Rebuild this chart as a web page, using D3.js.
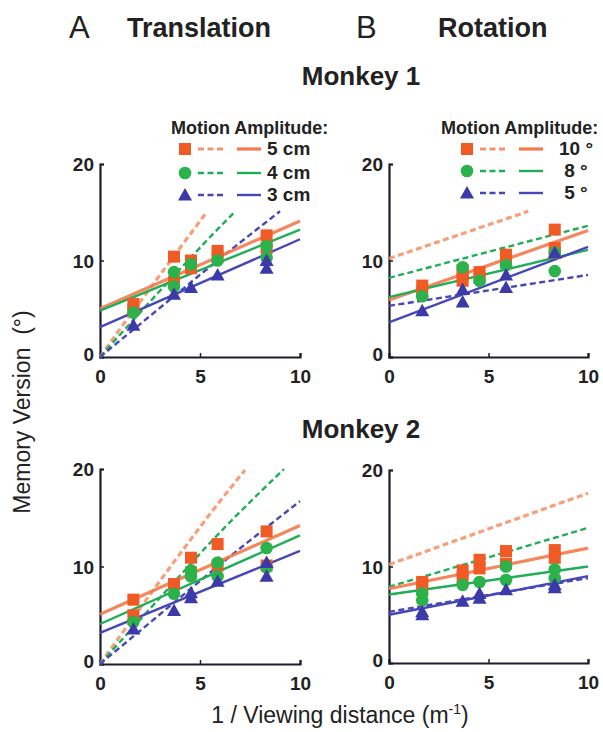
<!DOCTYPE html>
<html><head><meta charset="utf-8">
<script src="https://cdn.jsdelivr.net/npm/d3@7"></script>
<style>
body{margin:0;background:#fff;}
svg{display:block;font-family:Arial,"Liberation Sans",Helvetica,sans-serif;}
</style></head>
<body>
<svg id="c" width="603" height="732"></svg>
<script>
// ---------- DATA ----------
const xTicks = [0, 5, 10];
const yTicks = [0, 10, 20];
const transLabels = ["5 cm", "4 cm", "3 cm"];
const rotLabels = ["10 °", "8 °", "5 °"];

// Monkey 1 – Translation
const m1TransPtsRed   = [[1.67,5.5],[1.67,4.9],[3.7,10.4],[3.7,7.8],[4.55,10.0],[4.55,9.2],[5.88,11.0],[5.88,10.4],[8.33,12.6],[8.33,11.3]];
const m1TransPtsGreen = [[1.67,4.6],[3.7,8.8],[3.7,7.3],[4.55,9.6],[5.88,10.0],[8.33,10.3],[8.33,11.5]];
const m1TransPtsBlue  = [[1.67,3.3],[3.7,6.5],[4.55,7.2],[5.88,8.5],[8.33,9.2],[8.33,10.0]];
const m1TransDashRed   = [[0,0],[1,2.9],[2,5.7],[3,8.5],[4,11.3],[5.33,15.0]];
const m1TransDashGreen = [[0,0],[2,4.6],[4,9.1],[6,13.5],[6.67,14.9]];
const m1TransDashBlue  = [[0,0],[3,5.1],[6,10.2],[9,15.1]];
const m1TransFitRed   = [[0,5.0],[10,14.1]];
const m1TransFitGreen = [[0,4.8],[10,13.2]];
const m1TransFitBlue  = [[0,3.1],[10,12.2]];

// Monkey 1 – Rotation
const m1RotPtsRed   = [[1.67,7.4],[1.67,6.8],[3.7,9.0],[3.7,8.5],[3.7,7.9],[4.55,8.8],[4.55,8.2],[5.88,10.6],[5.88,9.8],[8.33,13.2],[8.33,11.3],[8.33,10.8]];
const m1RotPtsGreen = [[1.67,6.3],[3.7,9.3],[4.55,7.9],[5.88,9.5],[8.33,8.9],[8.33,10.8]];
const m1RotPtsBlue  = [[1.67,4.8],[3.7,5.7],[3.7,7.0],[5.88,7.2],[5.88,8.5],[8.33,10.8]];
const m1RotDashRed   = [[0,10.2],[7,15.1]];
const m1RotDashGreen = [[0,8.2],[10,13.6]];
const m1RotDashBlue  = [[0,5.3],[10,8.5]];
const m1RotFitRed   = [[0,5.9],[10,13.1]];
const m1RotFitGreen = [[0,6.2],[10,11.1]];
const m1RotFitBlue  = [[0,3.6],[10,11.4]];

// Monkey 2 – Translation
const m2TransPtsRed   = [[1.67,6.6],[1.67,5.0],[3.7,8.2],[4.55,10.9],[4.55,9.4],[5.88,12.3],[5.88,10.1],[8.33,13.6],[8.33,10.1]];
const m2TransPtsGreen = [[1.67,4.3],[3.7,7.2],[4.55,9.6],[4.55,9.0],[5.88,10.4],[5.88,9.0],[8.33,11.9],[8.33,9.9]];
const m2TransPtsBlue  = [[1.67,3.6],[3.7,5.5],[4.55,6.8],[4.55,7.3],[5.88,8.5],[8.33,9.0],[8.33,10.4]];
const m2TransDashRed   = [[0,0],[2,5.7],[4,11.3],[6,16.7],[7.25,19.9]];
const m2TransDashGreen = [[0,0],[3,6.8],[6,13.5],[9.2,20.0]];
const m2TransDashBlue  = [[0,0],[3,5.1],[6,10.2],[10,16.7]];
const m2TransFitRed   = [[0,5.1],[10,14.2]];
const m2TransFitGreen = [[0,4.1],[10,13.2]];
const m2TransFitBlue  = [[0,3.2],[10,11.6]];

// Monkey 2 – Rotation
const m2RotPtsRed   = [[1.67,8.4],[1.67,7.9],[3.7,9.6],[3.7,8.8],[4.55,10.7],[4.55,9.8],[5.88,11.6],[5.88,10.3],[8.33,11.7],[8.33,10.9]];
const m2RotPtsGreen = [[1.67,7.2],[1.67,6.5],[3.7,8.1],[4.55,8.4],[5.88,8.6],[5.88,10.0],[8.33,9.7],[8.33,8.8]];
const m2RotPtsBlue  = [[1.67,5.3],[1.67,5.0],[3.7,6.4],[4.55,7.2],[4.55,6.7],[5.88,7.6],[8.33,8.1],[8.33,7.8]];
const m2RotDashRed   = [[0,10.2],[10,17.6]];
const m2RotDashGreen = [[0,7.9],[10,14.0]];
const m2RotDashBlue  = [[0,5.3],[10,8.8]];
const m2RotFitRed   = [[0,7.7],[10,11.9]];
const m2RotFitGreen = [[0,7.1],[10,10.0]];
const m2RotFitBlue  = [[0,5.0],[10,9.0]];

// ---------- STYLE ----------
const C = {
  red:   {mark:"#f05a24", fit:"#f47a4c", dash:"#f6936c", shape:"square"},
  green: {mark:"#2cb24a", fit:"#1fae57", dash:"#1fae57", shape:"circle"},
  blue:  {mark:"#3b3aa8", fit:"#4747b8", dash:"#4747b8", shape:"triangle"}
};
const TXT = "#222";

const svg = d3.select("#c");

function panel(xr, yr, series) {
  const x = d3.scaleLinear().domain([0,10]).range(xr);
  const y = d3.scaleLinear().domain([0,20]).range(yr);
  const g = svg.append("g");
  const line = d3.line().x(d=>x(d[0])).y(d=>y(d[1])).curve(d3.curveMonotoneX);

  const ax = g.append("g").attr("transform", `translate(0,${yr[0]})`)
    .call(d3.axisBottom(x).tickValues(xTicks).tickSize(-4).tickFormat(d3.format("d")));
  const ay = g.append("g").attr("transform", `translate(${xr[0]},0)`)
    .call(d3.axisLeft(y).tickValues(yTicks).tickSize(-4).tickFormat(d3.format("d")));
  [ax, ay].forEach(a => {
    a.select(".domain").attr("stroke", "#1c1c2c").attr("stroke-width", 2.2);
    a.selectAll(".tick line").attr("stroke", "#1c1c2c").attr("stroke-width", 1.5);
    a.selectAll("text").attr("fill", TXT).attr("font-size", 19).attr("font-weight", "bold");
  });
  ax.selectAll(".tick text").attr("dy", "0").attr("y", 26);
  ay.selectAll(".tick text").attr("x", -6).attr("dy", "0.36em");
  ay.selectAll(".tick").filter(d => d === 0).select("text").attr("dy", "0.2em");

  series.forEach(s => {
    g.append("path").datum(s.dash).attr("d", line).attr("fill","none")
      .attr("stroke", C[s.c].dash).attr("stroke-width", s.c==="red"?3.2:2.4)
      .attr("stroke-dasharray", "6,3.5").attr("opacity", s.c==="red"?0.9:1);
  });
  series.forEach(s => {
    g.append("path").datum(s.fit).attr("d", line).attr("fill","none")
      .attr("stroke", C[s.c].fit).attr("stroke-width", s.c==="red"?3.2:2.4)
      .attr("opacity", s.c==="red"?0.9:1);
  });
  series.forEach(s => drawMarks(g, s.pts.map(p => [x(p[0]), y(p[1])]), s.c));
}

function drawMarks(g, pts, c) {
  const col = C[c].mark;
  pts.forEach(([px, py]) => drawMark(g, px, py, c, col));
}
function drawMark(g, px, py, c, col) {
  if (C[c].shape === "square") {
    g.append("rect").attr("x", px-6).attr("y", py-6).attr("width", 12).attr("height", 12).attr("fill", col);
  } else if (C[c].shape === "circle") {
    g.append("circle").attr("cx", px).attr("cy", py).attr("r", 6.3).attr("fill", col);
  } else {
    g.append("path").attr("d", `M${px},${py-7}L${px+7},${py+5.5}L${px-7},${py+5.5}Z`).attr("fill", col);
  }
}

panel([100,300],[357,164],[
  {c:"red",   pts:m1TransPtsRed,   dash:m1TransDashRed,   fit:m1TransFitRed},
  {c:"green", pts:m1TransPtsGreen, dash:m1TransDashGreen, fit:m1TransFitGreen},
  {c:"blue",  pts:m1TransPtsBlue,  dash:m1TransDashBlue,  fit:m1TransFitBlue}
]);
panel([389,588],[357,164],[
  {c:"red",   pts:m1RotPtsRed,   dash:m1RotDashRed,   fit:m1RotFitRed},
  {c:"green", pts:m1RotPtsGreen, dash:m1RotDashGreen, fit:m1RotFitGreen},
  {c:"blue",  pts:m1RotPtsBlue,  dash:m1RotDashBlue,  fit:m1RotFitBlue}
]);
panel([100,300],[664,469],[
  {c:"red",   pts:m2TransPtsRed,   dash:m2TransDashRed,   fit:m2TransFitRed},
  {c:"green", pts:m2TransPtsGreen, dash:m2TransDashGreen, fit:m2TransFitGreen},
  {c:"blue",  pts:m2TransPtsBlue,  dash:m2TransDashBlue,  fit:m2TransFitBlue}
]);
panel([389,588],[663,470],[
  {c:"red",   pts:m2RotPtsRed,   dash:m2RotDashRed,   fit:m2RotFitRed},
  {c:"green", pts:m2RotPtsGreen, dash:m2RotDashGreen, fit:m2RotFitGreen},
  {c:"blue",  pts:m2RotPtsBlue,  dash:m2RotDashBlue,  fit:m2RotFitBlue}
]);

function legend(x0, titleX, rows, labels, textX, anchor) {
  const g = svg.append("g");
  g.append("text").attr("x", titleX).attr("y", 134).attr("fill", TXT)
    .attr("font-size", 18).attr("font-weight", "bold").text("Motion Amplitude:");
  const keys = ["red","green","blue"];
  keys.forEach((k, i) => {
    const yy = rows[i];
    drawMark(g, x0, yy, k, C[k].mark);
    g.append("line").attr("x1", x0+13).attr("x2", x0+39).attr("y1", yy).attr("y2", yy)
      .attr("stroke", C[k].dash).attr("stroke-width", k==="red"?3:2.4).attr("stroke-dasharray","6,3.5");
    g.append("line").attr("x1", x0+52).attr("x2", x0+76).attr("y1", yy).attr("y2", yy)
      .attr("stroke", C[k].fit).attr("stroke-width", k==="red"?3.2:2.4);
    g.append("text").attr("x", textX).attr("y", yy+6).attr("text-anchor", anchor)
      .attr("fill", TXT).attr("font-size", 19).attr("font-weight","bold").text(labels[i]);
  });
}
legend(185, 171, [149,173,195], transLabels, 267, "start");
legend(467, 441, [149,171,193], rotLabels, 576, "middle");

function txt(x, y, s, size, weight, anchor) {
  return svg.append("text").attr("x", x).attr("y", y).attr("fill", TXT)
    .attr("font-size", size).attr("font-weight", weight).attr("text-anchor", anchor || "start").text(s);
}
txt(69, 38, "A", 31, "normal");
txt(127, 37, "Translation", 27, "bold");
txt(356, 38, "B", 31, "normal");
txt(438, 37, "Rotation", 27, "bold");
txt(361, 85, "Monkey 1", 26, "bold", "middle");
txt(361, 438, "Monkey 2", 26, "bold", "middle");

svg.append("text").attr("transform", "translate(30,412) rotate(-90)")
  .attr("text-anchor", "middle").attr("fill", TXT).attr("font-size", 23)
  .attr("xml:space","preserve").text("Memory Version  (°)");

const xl = svg.append("text").attr("x", 340).attr("y", 723).attr("text-anchor", "middle")
  .attr("fill", TXT).attr("font-size", 23);
xl.append("tspan").text("1 / Viewing distance (m");
xl.append("tspan").attr("font-size", 14).attr("dy", -9).text("-1");
xl.append("tspan").attr("dy", 9).text(")");
</script>
</body></html>
